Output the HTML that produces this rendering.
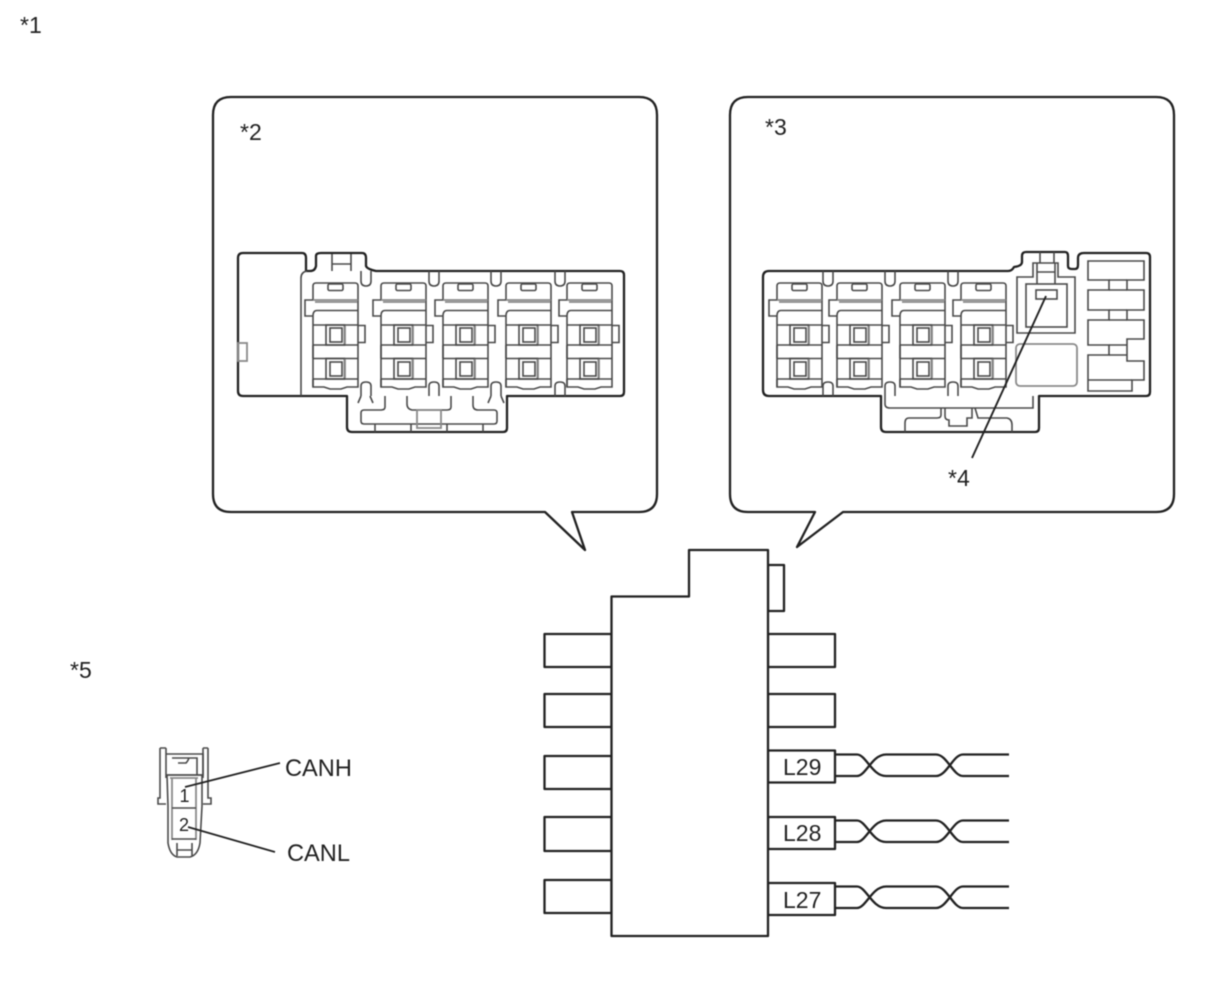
<!DOCTYPE html>
<html lang="en">
<head>
<meta charset="utf-8">
<title>Connector diagram</title>
<style>
html,body{margin:0;padding:0;background:#fff;width:1210px;height:986px;overflow:hidden}
svg{display:block;filter:blur(.4px)}
text{font-family:"Liberation Sans",sans-serif;fill:#222;font-size:23px}
.o{fill:none;stroke:#222;stroke-width:2.300;stroke-linejoin:round}
.f{fill:#fff;stroke:#222;stroke-width:2.300;stroke-linejoin:round}
.t{fill:none;stroke:#4a4a4a;stroke-width:1.600}
.g{fill:none;stroke:#8a8a8a;stroke-width:1.800}
</style>
</head>
<body>
<svg width="1210" height="986" viewBox="0 0 1210 986" xmlns="http://www.w3.org/2000/svg">
<defs>
<g id="cell">
  <path class="t" d="M0 300V286Q0 283 3 283H42Q45 283 45 286V387H34L28 389H17L11 387H0V379M0 358.500V345M0 325V316"/>
  <path class="g" d="M0 300H45M2 302H44"/>
  <rect class="t" x="15" y="284" width="15" height="6.500" rx="1.500"/>
  <path class="t" d="M0 300H-8V316H0M0 316Q0 310.500 4 310.500H45M0 325H45V325M0 345H45M0 358.500H45M0 379H45"/>
  <path class="t" d="M0 325V387"/>
  <rect class="t" x="13" y="325" width="18.500" height="20"/>
  <rect class="t" x="13" y="358.500" width="18.500" height="20.500"/>
  <rect class="t" x="17" y="328" width="12" height="14"/>
  <rect class="t" x="17" y="362" width="12" height="14"/>
  <path class="g" d="M32 326V344M32 359V378"/>
  <path class="t" d="M45 325.500H52V342.500H45"/>
</g>
<path id="nt" class="t" d="M0 271V281Q0 286 5 286Q10 286 10 281V271"/>
<path id="nb" class="t" d="M0 396V386Q0 382 5 382Q10 382 10 386V396"/>
<g id="wires">
  <path class="o" d="M835 754.500H857C866 754.500 872 776 886 776H936C947 776 953 754.500 963 754.500H1009"/>
  <path class="o" d="M835 776H857C866 776 872 754.500 886 754.500H936C947 754.500 953 776 963 776H1009"/>
</g>
</defs>

<!-- labels -->
<text x="20" y="33">*1</text>

<!-- callouts -->
<path class="f" d="M231 97H639Q657 97 657 115V494Q657 512 639 512H572L585 550L545 512H231Q213 512 213 494V115Q213 97 231 97Z"/>
<path class="f" d="M748 97H1156Q1174 97 1174 115V494Q1174 512 1156 512H843L797 547L815 512H748Q730 512 730 494V115Q730 97 748 97Z"/>
<text x="240" y="140">*2</text>
<text x="765" y="135">*3</text>
<text x="948" y="486">*4</text>
<text x="70" y="678">*5</text>

<!-- connector *2 -->
<path class="o" d="M306 271 H310 Q315 271 316 266 V256 Q316 253 321 253 H362 Q366 253 366 258 V266 Q367 269 376 271 H620 Q624 271 624 275 V392 Q624 396 620 396 H507 V428 Q507 432 503 432 H352 Q347 432 347 427 V396 H243 Q238 396 238 391 V258 Q238 253 243 253 H302 Q306 253 306 258 Z"/>
<path class="t" d="M307 271Q301 272 301 278V396"/>
<path class="t" d="M332 254V271M351 254V271M332 264H351"/>
<rect class="g" x="238" y="343" width="9" height="18"/>
<use href="#cell" transform="translate(313,0)"/>
<use href="#cell" transform="translate(381,0)"/>
<use href="#cell" transform="translate(443,0)"/>
<use href="#cell" transform="translate(506,0)"/>
<use href="#cell" transform="translate(567,0)"/>
<use href="#nt" x="361"/><use href="#nt" x="429"/><use href="#nt" x="491"/><use href="#nt" x="555"/>
<use href="#nb" x="361"/><use href="#nb" x="429"/><use href="#nb" x="491"/><use href="#nb" x="555"/>
<path class="t" d="M361 396L358 403M370 396L373 403M491 396L488 403M501 396L504 403"/>
<path class="t" d="M385 396V407Q385 410 381 410H364Q361 410 361 413V421Q361 424 364 424H494Q497 424 497 421V413Q497 410 494 410H478Q473 410 473 405V396"/>
<path class="t" d="M451 396V407Q451 410 447 410H412Q407 409 407 404V396"/>
<path class="t" d="M375 424V432M411 424V432M447 424V432M483 424V432"/>
<rect class="g" x="417" y="410" width="24" height="18"/>

<!-- connector *3 -->
<path class="o" d="M769 271 H1008 Q1012 271 1014 267 Q1022 266 1022 262 V256 Q1022 252 1026 252 H1065 Q1068 252 1068 256 V266 Q1068 269 1072 269 H1075 Q1078 269 1078 265 V258 Q1078 253 1084 253 H1146 Q1150 253 1150 257 V392 Q1150 396 1146 396 H1039 V428 Q1039 432 1035 432 H886 Q881 432 881 427 V396 H769 Q763 396 763 390 V277 Q763 271 769 271 Z"/>
<use href="#cell" transform="translate(777,0)"/>
<use href="#cell" transform="translate(837,0)"/>
<use href="#cell" transform="translate(900,0)"/>
<use href="#cell" transform="translate(961,0)"/>
<use href="#nt" x="823"/><use href="#nt" x="885"/><use href="#nt" x="948"/>
<use href="#nb" x="823"/><use href="#nb" x="885"/><use href="#nb" x="948"/>
<path class="t" d="M885 396V404Q885 408 890 408H1033V396"/>
<path class="t" d="M941 408V415Q941 418 937 418H909Q905 418 905 423V432"/>
<path class="t" d="M945 408V416Q945 420 949 420V426H967V418H972V408"/>
<path class="t" d="M975 408L978 418H1007Q1012 419 1012 425V432"/>
<!-- center block -->
<path class="t" d="M1017 333V277H1033V263H1058V277H1075V333Z"/>
<rect class="t" x="1026" y="284" width="41" height="43"/>
<rect class="t" x="1036" y="290" width="21" height="9"/>
<path class="t" d="M1037 272H1055M1037 263V284M1055 263V284M1040 252V263M1054 252V263"/>
<rect class="g" x="1016" y="344" width="61" height="42" rx="4"/>
<!-- right blocks -->
<path class="t" d="M1088 261H1144V280H1127V290H1144V310H1127V320H1144V339H1127V355H1127V361H1144V380H1132V391H1088V355H1109V345H1088V320H1109V310H1088V290H1109V280H1088Z"/>
<path class="t" d="M1109 280H1127M1109 290H1127M1109 310H1127M1109 320H1127M1109 345H1127M1109 355H1127M1088 380H1132"/>
<path class="o" d="M1046 296L972 458" style="stroke-width:1.900"/>

<!-- main body -->
<rect class="f" x="768" y="565" width="16" height="46"/>
<rect class="f" x="544.500" y="634" width="67" height="33"/>
<rect class="f" x="544.500" y="694" width="67" height="33"/>
<rect class="f" x="544.500" y="756" width="67" height="33"/>
<rect class="f" x="544.500" y="817" width="67" height="34"/>
<rect class="f" x="544.500" y="880" width="67" height="33"/>
<rect class="f" x="768" y="634" width="67" height="33"/>
<rect class="f" x="768" y="694" width="67" height="33"/>
<rect class="f" x="768" y="750.500" width="67" height="32"/>
<rect class="f" x="768" y="817" width="67" height="32"/>
<rect class="f" x="768" y="883" width="67" height="32"/>
<path class="f" d="M611.500 936V596.500H689V550H768V936Z"/>
<text x="783" y="775">L29</text>
<text x="783" y="841">L28</text>
<text x="783" y="908">L27</text>
<use href="#wires"/>
<use href="#wires" transform="translate(0,66)"/>
<use href="#wires" transform="translate(0,132)"/>

<!-- connector *5 -->
<g>
  <path class="t" d="M160 748V798H158V804H166M166 748H160M166 748V778"/>
  <path class="t" d="M208 748V798H211V804H203M203 748H208M203 748V778"/>
  <path class="t" d="M166 754H203V775H166M172 758H197V775M178 763H186Q188 761 189 758"/>
  <path class="t" d="M167 775H202V806L200 843Q198 855 190 857H177Q170 855 168 843V806Z"/>
  <path class="g" d="M172 778V840M196 778V840M170 778H198"/>
  <path class="t" d="M172 808H196M172 839H196M177 843V856M192 843V856M177 850H192"/>
  <text x="179.500" y="802" style="font-size:18px">1</text>
  <text x="179" y="831" style="font-size:18px">2</text>
  <path class="o" d="M185 787L280 763M188 827L275 852" style="stroke-width:1.800"/>
</g>
<text x="285" y="776" style="font-size:23.600px">CANH</text>
<text x="287" y="861" style="font-size:23.600px">CANL</text>
</svg>
</body>
</html>
